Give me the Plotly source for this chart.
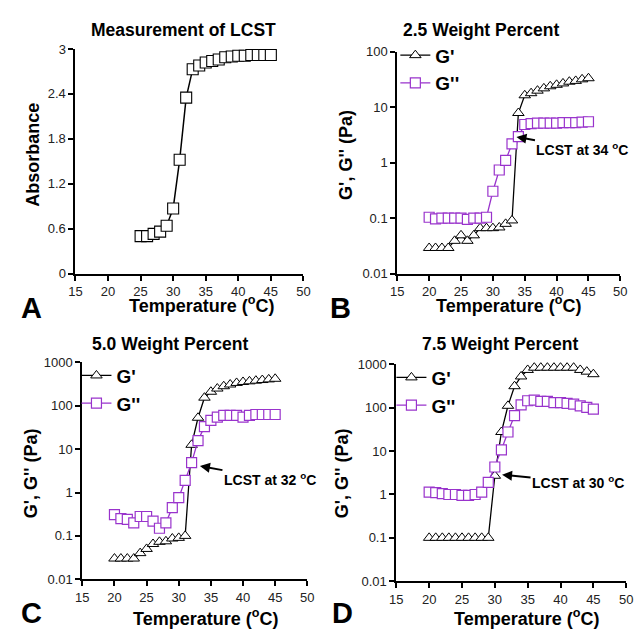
import plotly.graph_objects as go

# ---------------- data ----------------
temp_a = [25, 26, 27, 28, 29, 30, 31, 32, 33, 34, 35, 36, 37, 38, 39, 40, 41, 42, 43, 44, 45]
absorb = [0.50, 0.50, 0.53, 0.56, 0.64, 0.87, 1.52, 2.35, 2.73, 2.78, 2.82, 2.84, 2.86, 2.89, 2.90,
          2.91, 2.91, 2.92, 2.92, 2.92, 2.92]

temp = list(range(20, 46))

g1_b = [0.029, 0.029, 0.029, 0.029, 0.039, 0.049, 0.039, 0.049, 0.066, 0.066, 0.066, 0.068, 0.079,
        0.091, 7.9, 16.5, 18, 20, 22, 24, 25.5, 27, 29, 30, 32, 33.5]
g2_b = [0.104, 0.097, 0.1, 0.1, 0.1, 0.1, 0.095, 0.1, 0.1, 0.104, 0.306, 0.74, 1.1, 2.2, 2.97,
        4.9, 5.1, 5.2, 5.2, 5.2, 5.2, 5.3, 5.3, 5.3, 5.4, 5.5]

g1_c = [0.030, 0.030, 0.030, 0.030, 0.040, 0.050, 0.065, 0.073, 0.075, 0.087, 0.090, 0.100, 12.6,
        53, 154, 211, 250, 283, 310, 337, 355, 367, 380, 393, 407, 420]
g2_c = [0.31, 0.25, 0.24, 0.20, 0.28, 0.28, 0.22, 0.15, 0.20, 0.45, 0.76, 1.9, 4.9, 15.8, 33, 46,
        55, 60, 60, 60, 55, 60, 63, 63, 63, 63]

g1_d = [0.1, 0.1, 0.1, 0.1, 0.1, 0.1, 0.1, 0.1, 0.1, 0.1, 2.7, 27.6, 111, 314, 527, 745, 840, 840,
        840, 840, 840, 840, 840, 745, 680, 595]
g2_d = [1.13, 1.1, 1.05, 1.0, 1.0, 0.95, 0.95, 1.0, 1.13, 1.9, 4.3, 10.7, 27.6, 66, 117, 145, 150,
        140, 140, 132, 132, 126, 121, 111, 102, 93]

x_ticks = [15, 20, 25, 30, 35, 40, 45, 50]
abs_ticks = [0, 0.6, 1.2, 1.8, 2.4, 3]
log_ticks = [0.01, 0.1, 1, 10, 100, 1000]
log_labels = ["0.01", "0.1", "1", "10", "100", "1000"]

titles = ["Measurement of LCST", "2.5 Weight Percent", "5.0 Weight Percent", "7.5 Weight Percent"]
letters = ["A", "B", "C", "D"]
lcst_labels = ["LCST at 34 <sup>o</sup>C", "LCST at 32 <sup>o</sup>C", "LCST at 30 <sup>o</sup>C"]
x_title = "Temperature (<sup>o</sup>C)"
y_titles = ["Absorbance", "G', G'' (Pa)", "G', G'' (Pa)", "G', G'' (Pa)"]

# ---------------- style ----------------
W, H = 642, 639
PURPLE = "#9933CC"
FONT = "Liberation Sans, Arial, sans-serif"


def px(x):
    return x / W


def py(y):
    return 1 - y / H


fig = go.Figure()

fig.add_trace(go.Scatter(
    x=temp_a, y=absorb, mode="lines+markers", xaxis="x", yaxis="y", showlegend=False,
    line=dict(color="black", width=1.5),
    marker=dict(symbol="square", size=11, color="white", line=dict(color="black", width=1.1)),
    cliponaxis=False))

series = [(g1_b, g2_b, "x2", "y2", "legend"),
          (g1_c, g2_c, "x3", "y3", "legend2"),
          (g1_d, g2_d, "x4", "y4", "legend3")]
for g1, g2, xa, ya, lg in series:
    fig.add_trace(go.Scatter(
        x=temp, y=g1, mode="lines+markers", name="G'", xaxis=xa, yaxis=ya, legend=lg,
        line=dict(color="black", width=1.3),
        marker=dict(symbol="triangle-up", size=10, color="white", line=dict(color="black", width=1)),
        cliponaxis=False))
    fig.add_trace(go.Scatter(
        x=temp, y=g2, mode="lines+markers", name="G''", xaxis=xa, yaxis=ya, legend=lg,
        line=dict(color=PURPLE, width=1.3),
        marker=dict(symbol="square", size=10, color="white", line=dict(color=PURPLE, width=1.2)),
        cliponaxis=False))

tickfont = dict(family=FONT, size=13, color="#222")
titlefont = dict(family=FONT, size=18, color="black", weight="bold")

common_x = dict(range=[15, 50], tickvals=x_ticks, showline=True, linecolor="black", linewidth=2,
                ticks="outside", ticklen=5, tickwidth=2, tickcolor="black", showgrid=False,
                zeroline=False, tickfont=tickfont)
common_y = dict(showline=True, linecolor="black", linewidth=2, ticks="outside", ticklen=5,
                tickwidth=2, tickcolor="black", showgrid=False, zeroline=False, tickfont=tickfont)

doms = {
    "A": ([px(70), px(303)], [py(273), py(43)]),
    "B": ([px(399), px(627)], [py(273), py(46)]),
    "C": ([px(77), px(307)], [py(586), py(364)]),
    "D": ([px(398), px(633)], [py(588), py(366)]),
}

fig.update_layout(
    width=W, height=H, margin=dict(l=0, r=0, t=0, b=0),
    paper_bgcolor="white", plot_bgcolor="white",
    font=dict(family=FONT, color="black"),
    xaxis=dict(common_x, domain=doms["A"][0], anchor="y"),
    yaxis=dict(common_y, domain=doms["A"][1], anchor="x", range=[0, 3], tickvals=abs_ticks,
               ticktext=["0", "0.6", "1.2", "1.8", "2.4", "3"]),
    xaxis2=dict(common_x, domain=doms["B"][0], anchor="y2"),
    yaxis2=dict(common_y, domain=doms["B"][1], anchor="x2", type="log", range=[-2, 2],
                tickvals=log_ticks[:5], ticktext=log_labels[:5]),
    xaxis3=dict(common_x, domain=doms["C"][0], anchor="y3"),
    yaxis3=dict(common_y, domain=doms["C"][1], anchor="x3", type="log", range=[-2, 3],
                tickvals=log_ticks, ticktext=log_labels),
    xaxis4=dict(common_x, domain=doms["D"][0], anchor="y4"),
    yaxis4=dict(common_y, domain=doms["D"][1], anchor="x4", type="log", range=[-2, 3],
                tickvals=log_ticks, ticktext=log_labels),
)

legfont = dict(family=FONT, size=19, color="black", weight="bold")
for name, (lx, ly) in {"legend": (397, 30), "legend2": (71, 358), "legend3": (393, 360)}.items():
    fig.layout[name] = dict(x=px(lx), y=py(ly), xanchor="left", yanchor="top",
                            bgcolor="rgba(0,0,0,0)", font=legfont, itemwidth=30,
                            tracegroupgap=0)

annos = []
title_pos = [(180, 24), (485, 24), (167, 345), (504, 345)]
for t, (cx, cy) in zip(titles, title_pos):
    annos.append(dict(text=t, x=px(cx), y=py(cy), xref="paper", yref="paper",
                      showarrow=False, xanchor="center", yanchor="middle",
                      font=dict(family=FONT, size=17.5, color="black", weight="bold")))

letter_pos = [(25, 327), (341, 327), (25, 639), (343, 639)]
for t, (cx, cy) in zip(letters, letter_pos):
    annos.append(dict(text=t, x=px(cx), y=py(cy), xref="paper", yref="paper",
                      showarrow=False, xanchor="center", yanchor="bottom",
                      font=dict(family=FONT, size=29, color="black", weight="bold")))

xt_pos = [(199, 318), (513, 318), (203, 639), (531, 639)]
for (cx, cy) in xt_pos:
    annos.append(dict(text=x_title, x=px(cx), y=py(cy), xref="paper", yref="paper",
                      showarrow=False, xanchor="center", yanchor="bottom", font=titlefont))

yt_pos = [(27, 151), (347, 151), (24, 477), (342, 478)]
for t, (cx, cy) in zip(y_titles, yt_pos):
    annos.append(dict(text=t, x=px(cx), y=py(cy), xref="paper", yref="paper", textangle=-90,
                      showarrow=False, xanchor="center", yanchor="middle", font=titlefont))

arrow_specs = [("x2", "y2", 33.7, 0.467, 66, 12),
               ("x3", "y3", 33.3, 0.613, 70, 13),
               ("x4", "y4", 31.1, 0.455, 76, 7)]
for lab, (xr, yr, tx, ty, ax, ay) in zip(lcst_labels, arrow_specs):
    annos.append(dict(text=lab, x=tx, y=ty, xref=xr, yref=yr,
                      showarrow=True, ax=ax, ay=ay, axref="pixel", ayref="pixel",
                      arrowhead=2, arrowsize=1, arrowwidth=2, arrowcolor="black",
                      font=dict(family=FONT, size=14, color="black", weight="bold")))
fig.update_layout(annotations=annos)

fig.write_html("out.html", config={"displayModeBar": False},
               post_script="document.body.style.margin='0px';document.body.style.overflow='hidden';")
